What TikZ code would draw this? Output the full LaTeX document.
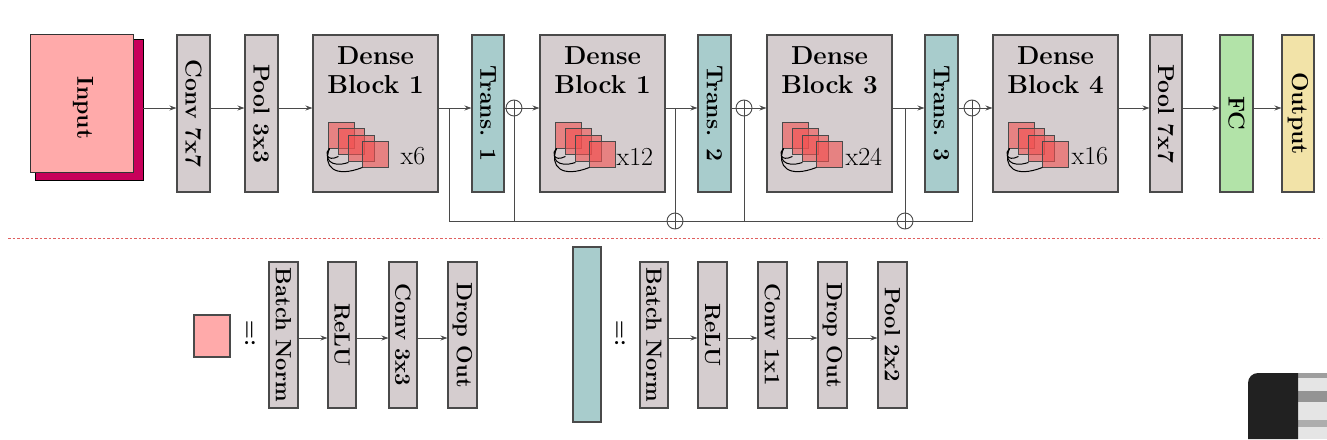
\documentclass[tikz,border=0pt]{standalone}
\usepackage{graphicx}
\usetikzlibrary{arrows.meta,calc}
\definecolor{gbox}{HTML}{D5CDCF}
\definecolor{lc}{HTML}{4A4A4A}
\definecolor{pinkf}{HTML}{FFAAAA}
\definecolor{magf}{HTML}{C8005A}
\definecolor{tealf}{HTML}{A8CCCC}
\definecolor{greenf}{HTML}{B2E3A8}
\definecolor{yellf}{HTML}{F2E3A8}
\definecolor{redsq}{HTML}{F25050}
\definecolor{dashc}{HTML}{E06060}
\newcommand\mybigf{\fontsize{23}{28}\selectfont\bfseries}
\newcommand\mytitlef{\fontsize{26}{29}\selectfont\bfseries}
\newcommand\mysmallf{\fontsize{22}{26}\selectfont\bfseries}
\newcommand\mynumf{\fontsize{26}{30}\selectfont}
\begin{document}
\begin{tikzpicture}[x=1pt,y=-1pt,
  lay/.style={draw=lc, line width=1.1pt, fill=gbox, inner sep=0pt, font=\mybigf},
  tall/.style={lay, minimum width=33pt, minimum height=157pt},
  dense/.style={lay, minimum width=125pt, minimum height=157pt},
  small/.style={lay, minimum width=29pt, minimum height=146pt, font=\mysmallf},
  arr/.style={draw=lc, line width=0.9pt, -{Stealth[length=7pt,width=5pt]}},
  ln/.style={draw=lc, line width=0.9pt},
  plusc/.style={circle, draw=lc, line width=0.9pt, fill=white, minimum size=16pt, inner sep=0pt,
    path picture={\draw[lc, line width=0.9pt] (path picture bounding box.north) -- (path picture bounding box.south)
      (path picture bounding box.west) -- (path picture bounding box.east);}},
  dicon/.pic={
    \foreach \dx/\dy in {0/0,10/6,20/13,34/19}
      \draw[draw=lc, line width=0.8pt, fill=redsq, fill opacity=0.6] (\dx,\dy) rectangle ++(26,26);
    \draw[black, line width=1pt] (1,26) .. controls (-4,30) and (-2,40) .. (10,34);
    \draw[black, line width=1pt] (1,26) .. controls (-5,36) and (2,46) .. (20,40);
    \draw[black, line width=1pt] (1,26) .. controls (-6,44) and (6,56) .. (34,45);
  }
]
\useasboundingbox (0,0) rectangle (1327,439);
\fill[white] (0,0) rectangle (1327,439);
\coordinate (ml) at (0,108);
\coordinate (bb) at (0,221);
\coordinate (bl) at (0,338);

% input
\node[draw=black, line width=0.8pt, fill=magf, minimum width=108pt, minimum height=141pt, inner sep=0pt] (inb) at (89,109.5) {};
\node[draw=black!80, line width=0.8pt, fill=pinkf, minimum width=103pt, minimum height=138pt, inner sep=0pt] (inf) at (81.5,103) {};
\node[font=\mybigf, inner sep=0pt] (inlbl) at (83,108) {\rotatebox{-90}{Input}};

\node[tall] (conv) at (193.5,113.5) {\rotatebox{-90}{Conv 7x7}};
\node[tall] (pool1) at (261.5,113.5) {\rotatebox{-90}{Pool 3x3}};
\node[dense] (d1) at (375.5,113.5) {};
\node[tall, fill=tealf, minimum width=32pt] (t1) at (488,113.5) {\rotatebox{-90}{Trans. 1}};
\node[plusc] (p1) at (514,108) {};
\node[dense] (d2) at (602.5,113.5) {};
\node[tall, fill=tealf] (t2) at (714.5,113.5) {\rotatebox{-90}{Trans. 2}};
\node[plusc] (p2) at (744,108) {};
\node[dense] (d3) at (829.5,113.5) {};
\node[tall, fill=tealf] (t3) at (941.5,113.5) {\rotatebox{-90}{Trans. 3}};
\node[plusc] (p3) at (972,108) {};
\node[dense] (d4) at (1055.5,113.5) {};
\node[tall, minimum width=32pt] (pool2) at (1166,113.5) {\rotatebox{-90}{Pool 7x7}};
\node[tall, fill=greenf] (fc) at (1236.5,113.5) {\rotatebox{-90}{FC}};
\node[tall, fill=yellf, minimum width=32pt] (out) at (1298,113.5) {\rotatebox{-90}{Output}};

% dense block contents
\foreach \b/\t/\m/\o in {d1/1/x6/88, d2/1/x12/77, d3/3/x24/79, d4/4/x16/79}{
  \node[font=\mytitlef, align=center, inner sep=0pt] (\b t) at ($(\b.north)+(0,36)$) {Dense\\Block \t};
  \pic at ($(\b.north west)+(16,88)$) {dicon};
  \node[font=\mynumf, anchor=west, inner sep=0pt] (\b x) at ($(\b.north west)+(\o,122)$) {\m};
}

% main connectors
\draw[arr] (inb.east |- ml) -- (conv.west |- ml);
\draw[arr] (conv.east |- ml) -- (pool1.west |- ml);
\draw[arr] (pool1.east |- ml) -- (d1.west |- ml);
\draw[arr] (d1.east |- ml) -- (t1.west |- ml);
\draw[ln] (t1.east |- ml) -- (p1.west);
\draw[arr] (p1.east) -- (d2.west |- ml);
\draw[arr] (d2.east |- ml) -- (t2.west |- ml);
\draw[ln] (t2.east |- ml) -- (p2.west);
\draw[arr] (p2.east) -- (d3.west |- ml);
\draw[arr] (d3.east |- ml) -- (t3.west |- ml);
\draw[ln] (t3.east |- ml) -- (p3.west);
\draw[arr] (p3.east) -- (d4.west |- ml);
\draw[arr] (d4.east |- ml) -- (pool2.west |- ml);
\draw[arr] (pool2.east |- ml) -- (fc.west |- ml);
\draw[arr] (fc.east |- ml) -- (out.west |- ml);

% skip connections
\coordinate (b1) at (449,108);
\coordinate (b2) at (675,108);
\coordinate (b3) at (905,108);
\node[plusc] (q1) at (675,221) {};
\node[plusc] (q2) at (905,221) {};
\draw[ln] (b1) -- (b1 |- bb) -- (q1.west);
\draw[ln] (q1.east) -- (q2.west);
\draw[ln] (q2.east) -- (p3 |- bb) -- (p3.south);
\draw[ln] (p1.south) -- (p1 |- bb);
\draw[ln] (p2.south) -- (p2 |- bb);
\draw[ln] (b2) -- (q1.north);
\draw[ln] (b3) -- (q2.north);

% separator
\draw[dashc, line width=0.9pt, dash pattern=on 2.5pt off 2pt] (8,238) -- (1322,238);

% bottom left group
\node[draw=lc, line width=1.1pt, fill=pinkf, minimum width=36pt, minimum height=42pt, inner sep=0pt] (psq) at (212,336) {};
\node[font=\mysmallf, inner sep=0pt] (eq1) at (250,333) {\rotatebox{90}{:=}};
\node[small] (bn1) at (283.5,335) {\rotatebox{-90}{Batch Norm}};
\node[small, minimum width=28pt] (re1) at (342,335) {\rotatebox{-90}{ReLU}};
\node[small, minimum width=28pt] (cv1) at (403,335) {\rotatebox{-90}{Conv 3x3}};
\node[small] (dr1) at (462.5,335) {\rotatebox{-90}{Drop Out}};
\draw[arr] (bn1.east |- bl) -- (re1.west |- bl);
\draw[arr] (re1.east |- bl) -- (cv1.west |- bl);
\draw[arr] (cv1.east |- bl) -- (dr1.west |- bl);

% bottom right group
\node[draw=lc, line width=1.1pt, fill=tealf, minimum width=28pt, minimum height=175pt, inner sep=0pt] (tr) at (587,334.5) {};
\node[font=\mysmallf, inner sep=0pt] (eq2) at (620,333) {\rotatebox{90}{:=}};
\node[small, minimum width=28pt] (bn2) at (654,335) {\rotatebox{-90}{Batch Norm}};
\node[small] (re2) at (712.5,335) {\rotatebox{-90}{ReLU}};
\node[small] (cv2) at (772.5,335) {\rotatebox{-90}{Conv 1x1}};
\node[small] (dr2) at (832.5,335) {\rotatebox{-90}{Drop Out}};
\node[small] (pl2) at (892.5,335) {\rotatebox{-90}{Pool 2x2}};
\draw[arr] (bn2.east |- bl) -- (re2.west |- bl);
\draw[arr] (re2.east |- bl) -- (cv2.west |- bl);
\draw[arr] (cv2.east |- bl) -- (dr2.west |- bl);
\draw[arr] (dr2.east |- bl) -- (pl2.west |- bl);

% corner overlay
\fill[black!10] (1298,373) rectangle (1327,439);
\fill[black!38] (1298,373) rectangle (1327,378);
\fill[black!42] (1298,391) rectangle (1327,402);
\fill[black!32] (1298,420) rectangle (1327,427);
\fill[black!87] (1248,439) [rounded corners=10pt] -- (1248,373) [sharp corners] -- (1298,373) -- (1298,439) -- cycle;
\end{tikzpicture}
\end{document}
